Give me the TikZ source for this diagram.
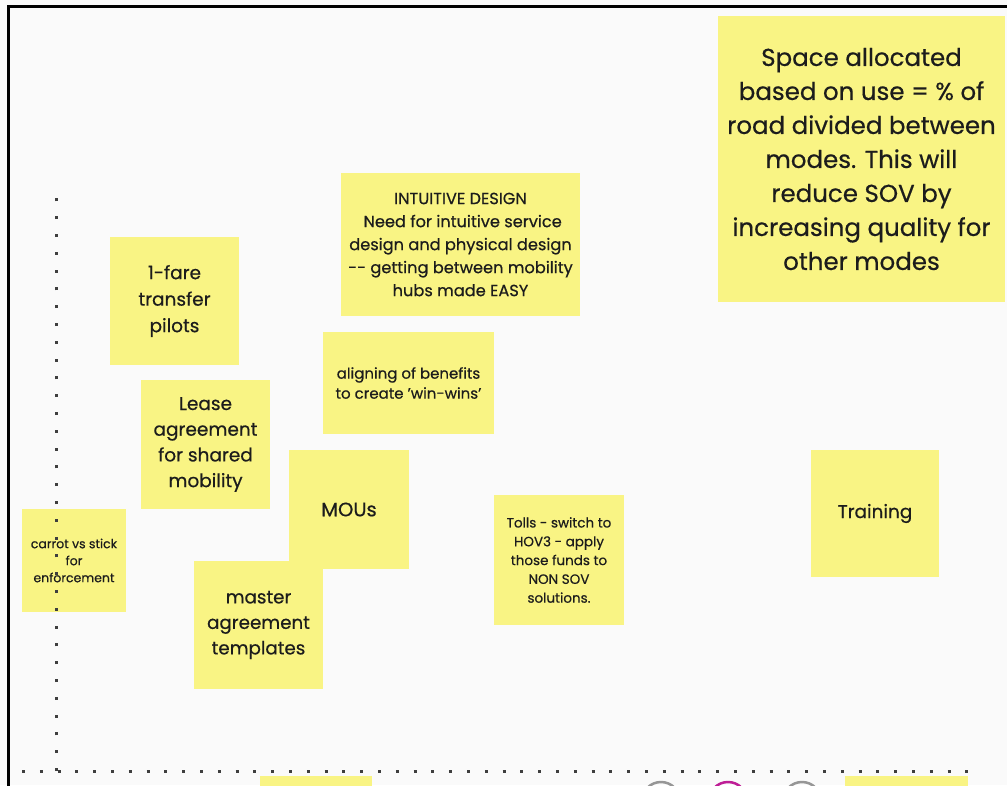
\documentclass[tikz,border=0pt]{standalone}
\usepackage{fontspec}
\setmainfont{Poppins}[FakeBold=0.5]
\usepackage{xcolor}
\usetikzlibrary{positioning}
\definecolor{sticky}{RGB}{249,244,132}
\definecolor{paper}{RGB}{250,250,250}
\definecolor{ink}{RGB}{28,28,28}
\definecolor{ringgray}{RGB}{150,150,150}
\definecolor{ringpink}{RGB}{190,30,150}

\begin{document}
\begin{tikzpicture}[
  x=1pt,y=-1pt,
  note/.style={fill=sticky,anchor=north west,inner sep=0pt,outer sep=0pt,
               align=center,text=ink},
  axis/.style={line width=3pt,dash pattern=on 3pt off 14.8pt,draw=ink!85},
  ring/.style={line width=2.5pt}
]
\clip (0,0) rectangle (1007,785);
\fill[paper] (0,0) rectangle (1007,785);
\draw[line width=3pt] (8,790) -- (8,6) -- (1007,6);

\node[note,minimum width=287,minimum height=286,font=\fontsize{24.5}{34}\selectfont] (space) at (718,16)
  {Space allocated\\based on use = \% of\\road divided between\\modes. This will\\reduce SOV by\\increasing quality for\\other modes};
\node[note,minimum width=239,minimum height=143,font=\fontsize{16.2}{23}\selectfont] (intuitive) at (341,173)
  {INTUITIVE DESIGN\\\ Need for intuitive service\\design and physical design\\-{}- getting between mobility\\hubs made EASY};
\node[note,minimum width=129,minimum height=128,font=\fontsize{18.5}{26.5}\selectfont] (fare) at (110,237)
  {1-fare\\transfer\\pilots};
\node[note,minimum width=171,minimum height=102,font=\fontsize{15}{20}\selectfont] (aligning) at (323,332)
  {aligning of benefits\\to create 'win-wins'};
\node[note,minimum width=129,minimum height=129,font=\fontsize{18.5}{25.7}\selectfont] (lease) at (141,380)
  {Lease\\agreement\\for shared\\mobility};
\node[note,minimum width=120,minimum height=119,font=\fontsize{19.5}{20}\selectfont] (mous) at (289,450)
  {MOUs};
\node[note,minimum width=104,minimum height=103,font=\fontsize{12.5}{17}\selectfont] (carrot) at (22,509)
  {carrot vs stick\\for\\enforcement};
\node[note,minimum width=130,minimum height=130,font=\fontsize{13.5}{18.8}\selectfont] (tolls) at (494,495)
  {Tolls - switch to\\HOV3 - apply\\those funds to\\NON SOV\\solutions.};
\node[note,minimum width=129,minimum height=128,font=\fontsize{18.3}{25.5}\selectfont] (master) at (194,561)
  {master\\agreement\\templates};
\node[note,minimum width=128,minimum height=127,font=\fontsize{18.5}{20}\selectfont] (training) at (811,450)
  {Training};
\node[note,minimum width=112,minimum height=20] (lowleft) at (260,776) {};
\node[note,minimum width=123,minimum height=20] (lowright) at (845,776) {};

% axes
\coordinate (origin) at (56,771);
\coordinate (ytop) at (56,198);
\coordinate (xleft) at (22,771);
\coordinate (xright) at (980,771);
\draw[axis] (origin) -- (ytop);
\draw[axis] (xleft) -- (xright);

% avatars peeking in at the bottom
\draw[ring,ringgray] (661,801) circle (19);
\draw[ring,ringpink] (728,801) circle (19);
\draw[ring,ringgray] (802,801) circle (19);
\end{tikzpicture}
\end{document}
